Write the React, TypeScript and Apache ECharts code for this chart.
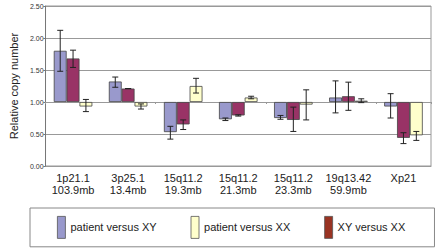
import React, { useEffect, useRef } from "react";
import * as echarts from "echarts";

const categories = [
  "1p21.1\n103.9mb",
  "3p25.1\n13.4mb",
  "15q11.2\n19.3mb",
  "15q11.2\n21.3mb",
  "15q11.2\n23.3mb",
  "19q13.42\n59.9mb",
  "Xp21",
];

const seriesNames = ["patient versus XY", "XY versus XX", "patient versus XX"];
const legendOrder = ["patient versus XY", "patient versus XX", "XY versus XX"];

const patientVsXY = [1.8, 1.32, 0.53, 0.73, 0.75, 1.07, 0.93];
const xyVsXX = [1.68, 1.21, 0.65, 0.79, 0.72, 1.09, 0.44];
const patientVsXX = [0.93, 0.93, 1.25, 1.07, 0.96, 1.02, 0.48];

const patientVsXYErr = [
  [1.48, 2.12], [1.23, 1.39], [0.42, 0.62], [0.71, 0.75], [0.73, 0.79], [0.83, 1.33], [0.75, 1.13],
];
const xyVsXXErr = [
  [1.54, 1.81], [1.21, 1.21], [0.57, 0.72], [0.78, 0.8], [0.54, 0.92], [0.87, 1.31], [0.35, 0.52],
];
const patientVsXXErr = [
  [0.85, 1.04], [0.89, 0.97], [1.14, 1.37], [1.05, 1.09], [0.72, 1.19], [0.99, 1.05], [0.4, 0.54],
];

const yTicks = { min: 0, max: 2.5, interval: 0.5 };
const BASE = 1;

const colors = ["#9999cc", "#993366", "#ffffcc"];
const legendColors: Record<string, string> = {
  "patient versus XY": "#9999cc",
  "patient versus XX": "#ffffcc",
  "XY versus XX": "#993322",
};

const FONT = "'Liberation Sans', Arial, sans-serif";

export default function App() {
  const ref = useRef<HTMLDivElement>(null);
  useEffect(() => {
    if (!ref.current) return;
    const chart = echarts.init(ref.current, undefined, { renderer: "svg" });
    const values = [patientVsXY, xyVsXX, patientVsXX];
    const errs = [patientVsXYErr, xyVsXXErr, patientVsXXErr];
    const errData: number[][] = [];
    errs.forEach((arr, s) =>
      arr.forEach((e, i) => errData.push([i, e[0] - BASE, e[1] - BASE, s]))
    );
    const gap = 0.3;
    chart.setOption({
      animation: false,
      backgroundColor: "#ffffff",
      textStyle: { fontFamily: FONT },
      grid: {
        left: 30,
        right: 5,
        top: 6,
        bottom: 84,
        show: true,
        borderColor: "#999",
        borderWidth: 1,
        backgroundColor: "#fff",
      },
      legend: {
        data: legendOrder.map((n) => ({
          name: n,
          itemStyle: { color: legendColors[n], borderColor: "#555", borderWidth: 0.8 },
        })),
        left: 30,
        top: 208,
        padding: [8, 29, 8, 27],
        itemGap: 34,
        itemWidth: 8,
        itemHeight: 22,
        icon: "rect",
        borderColor: "#888",
        borderWidth: 1,
        textStyle: { fontSize: 11, color: "#222", fontFamily: FONT },
        selectedMode: false,
      },
      xAxis: [
        {
          type: "category",
          data: categories,
          position: "bottom",
          axisLine: { onZero: false, lineStyle: { color: "#999" } },
          axisTick: { show: false },
          axisLabel: {
            fontSize: 11,
            color: "#222",
            lineHeight: 12,
            margin: 6,
            interval: 0,
            fontFamily: FONT,
          },
          splitLine: { show: false },
        },
        {
          type: "category",
          data: categories,
          position: "bottom",
          axisLine: { onZero: true, lineStyle: { color: "#999" } },
          axisTick: { show: true, length: 2, lineStyle: { color: "#999" } },
          axisLabel: { show: false },
          splitLine: { show: false },
        },
      ],
      yAxis: {
        type: "value",
        min: yTicks.min - BASE,
        max: yTicks.max - BASE,
        interval: yTicks.interval,
        name: "Relative copy number",
        nameLocation: "middle",
        nameGap: 20,
        nameRotate: 90,
        nameTextStyle: { fontSize: 11, color: "#222", fontFamily: FONT },
        axisLine: { show: true, lineStyle: { color: "#777" } },
        axisTick: { show: true, length: 2, lineStyle: { color: "#777" } },
        axisLabel: {
          fontSize: 7,
          color: "#333",
          margin: 2,
          fontFamily: FONT,
          formatter: (v: number) => (v + BASE).toFixed(2),
        },
        splitLine: { show: true, lineStyle: { color: "#999", width: 1 } },
      },
      series: [
        ...seriesNames.map((name, s) => ({
          name,
          type: "bar",
          xAxisIndex: 0,
          data: values[s].map((v) => +(v - BASE).toFixed(4)),
          barGap: "0%",
          barCategoryGap: gap * 100 + "%",
          itemStyle: { color: colors[s], borderColor: "#444", borderWidth: 0.8 },
          z: 2,
        })),
        {
          name: "error",
          type: "custom",
          xAxisIndex: 0,
          data: errData,
          encode: { x: 0, y: [1, 2] },
          z: 5,
          renderItem: (params: any, api: any) => {
            const ci = api.value(0);
            const lo = api.value(1);
            const hi = api.value(2);
            const s = api.value(3);
            const band = api.size([1, 0])[0];
            const bw = (band * (1 - gap)) / 3;
            const cx = api.coord([ci, 0])[0] + (s - 1) * bw;
            const yLo = api.coord([ci, lo])[1];
            const yHi = api.coord([ci, hi])[1];
            const cap = 3;
            const style = { stroke: "#222", lineWidth: 1 };
            return {
              type: "group",
              children: [
                { type: "line", shape: { x1: cx, y1: yLo, x2: cx, y2: yHi }, style },
                { type: "line", shape: { x1: cx - cap, y1: yLo, x2: cx + cap, y2: yLo }, style },
                { type: "line", shape: { x1: cx - cap, y1: yHi, x2: cx + cap, y2: yHi }, style },
              ],
            };
          },
        },
      ],
    });
    return () => chart.dispose();
  }, []);
  return (
    <div
      ref={ref}
      style={{ position: "fixed", left: 0, top: 0, width: 436, height: 250, background: "#fff" }}
    />
  );
}
